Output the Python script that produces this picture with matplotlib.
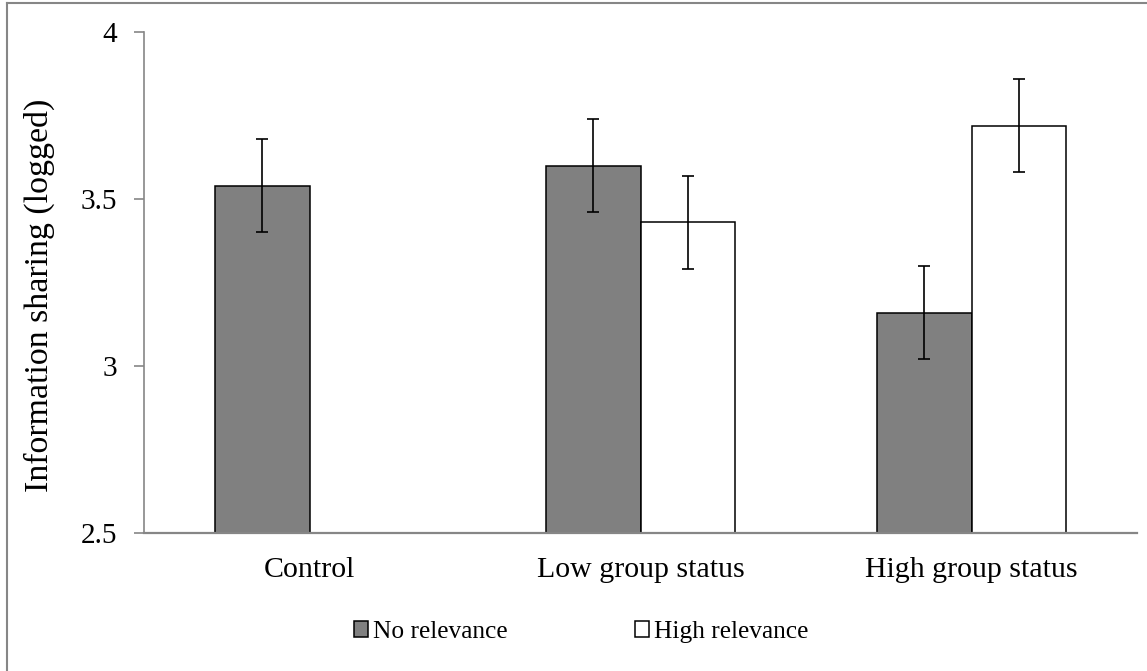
import numpy as np
import matplotlib
matplotlib.use('Agg')
import matplotlib.pyplot as plt
from matplotlib.lines import Line2D
from matplotlib.patches import Patch

# 데이터
categories = ['Control', 'Low group status', 'High group status']
no_rel = [3.54, 3.60, 3.16]
no_rel_err = [0.14, 0.14, 0.14]
high_rel = [np.nan, 3.43, 3.72]
high_rel_err = [np.nan, 0.14, 0.14]
yticks = [2.5, 3, 3.5, 4]
ytick_labels = ['2.5', '3', '3.5', '4']

plt.rcParams['font.family'] = ['Liberation Serif', 'DejaVu Serif']

W, H = 1147, 671
fig = plt.figure(figsize=(W / 100, H / 100), dpi=100)
ax = fig.add_axes([144 / W, 1 - 533 / H, (1137 - 144) / W, (533 - 32) / H])

gray_axis = '#868686'
x = np.arange(len(categories))
bw = 0.287

ax.bar(x - bw / 2, no_rel, bw, color='#808080', edgecolor='black', linewidth=1.1, zorder=2)
ax.bar(x + bw / 2, high_rel, bw, color='white', edgecolor='black', linewidth=1.1, zorder=2)
ax.errorbar(x - bw / 2, no_rel, yerr=no_rel_err, fmt='none', ecolor='black',
            elinewidth=1.2, capsize=4.5, capthick=1.2, zorder=3)
ax.errorbar(x + bw / 2, high_rel, yerr=high_rel_err, fmt='none', ecolor='black',
            elinewidth=1.2, capsize=4.5, capthick=1.2, zorder=3)

ax.set_ylim(2.5, 4)
ax.set_xlim(-0.5, 2.5)
ax.set_yticks(yticks)
ax.set_yticklabels(ytick_labels, fontsize=21.2)
ax.set_xticks(x)
ax.set_xticklabels(categories, fontsize=21.5)
ax.tick_params(axis='x', length=0, pad=17)
ax.tick_params(axis='y', length=7, width=1.2, color=gray_axis, pad=12.5)
ax.set_ylabel('Information sharing (logged)', fontsize=24.4)
ax.yaxis.set_label_coords(-0.090, 0.475)

for s in ['top', 'right']:
    ax.spines[s].set_visible(False)
ax.spines['left'].set_color(gray_axis)
ax.spines['left'].set_linewidth(1.2)
ax.spines['bottom'].set_color(gray_axis)
ax.spines['bottom'].set_linewidth(1.6)
ax.spines['bottom'].set_zorder(4)

handles = [Patch(facecolor='#808080', edgecolor='black', linewidth=1.1),
           Patch(facecolor='white', edgecolor='black', linewidth=1.1)]
fig.legend(handles, ['No relevance', 'High relevance'], loc='center',
           bbox_to_anchor=(581 / W, 1 - 632 / H), ncol=2, frameon=False,
           fontsize=18.3, handlelength=0.55, handleheight=0.55,
           handletextpad=0.2, columnspacing=5.0)

# 바깥 테두리 (잘린 차트 영역)
fig.add_artist(Line2D([7 / W, 1], [1 - 3 / H, 1 - 3 / H], color=gray_axis, linewidth=1.5))
fig.add_artist(Line2D([7 / W, 7 / W], [0, 1 - 3 / H], color=gray_axis, linewidth=1.5))

fig.savefig('out.png', dpi=100)
